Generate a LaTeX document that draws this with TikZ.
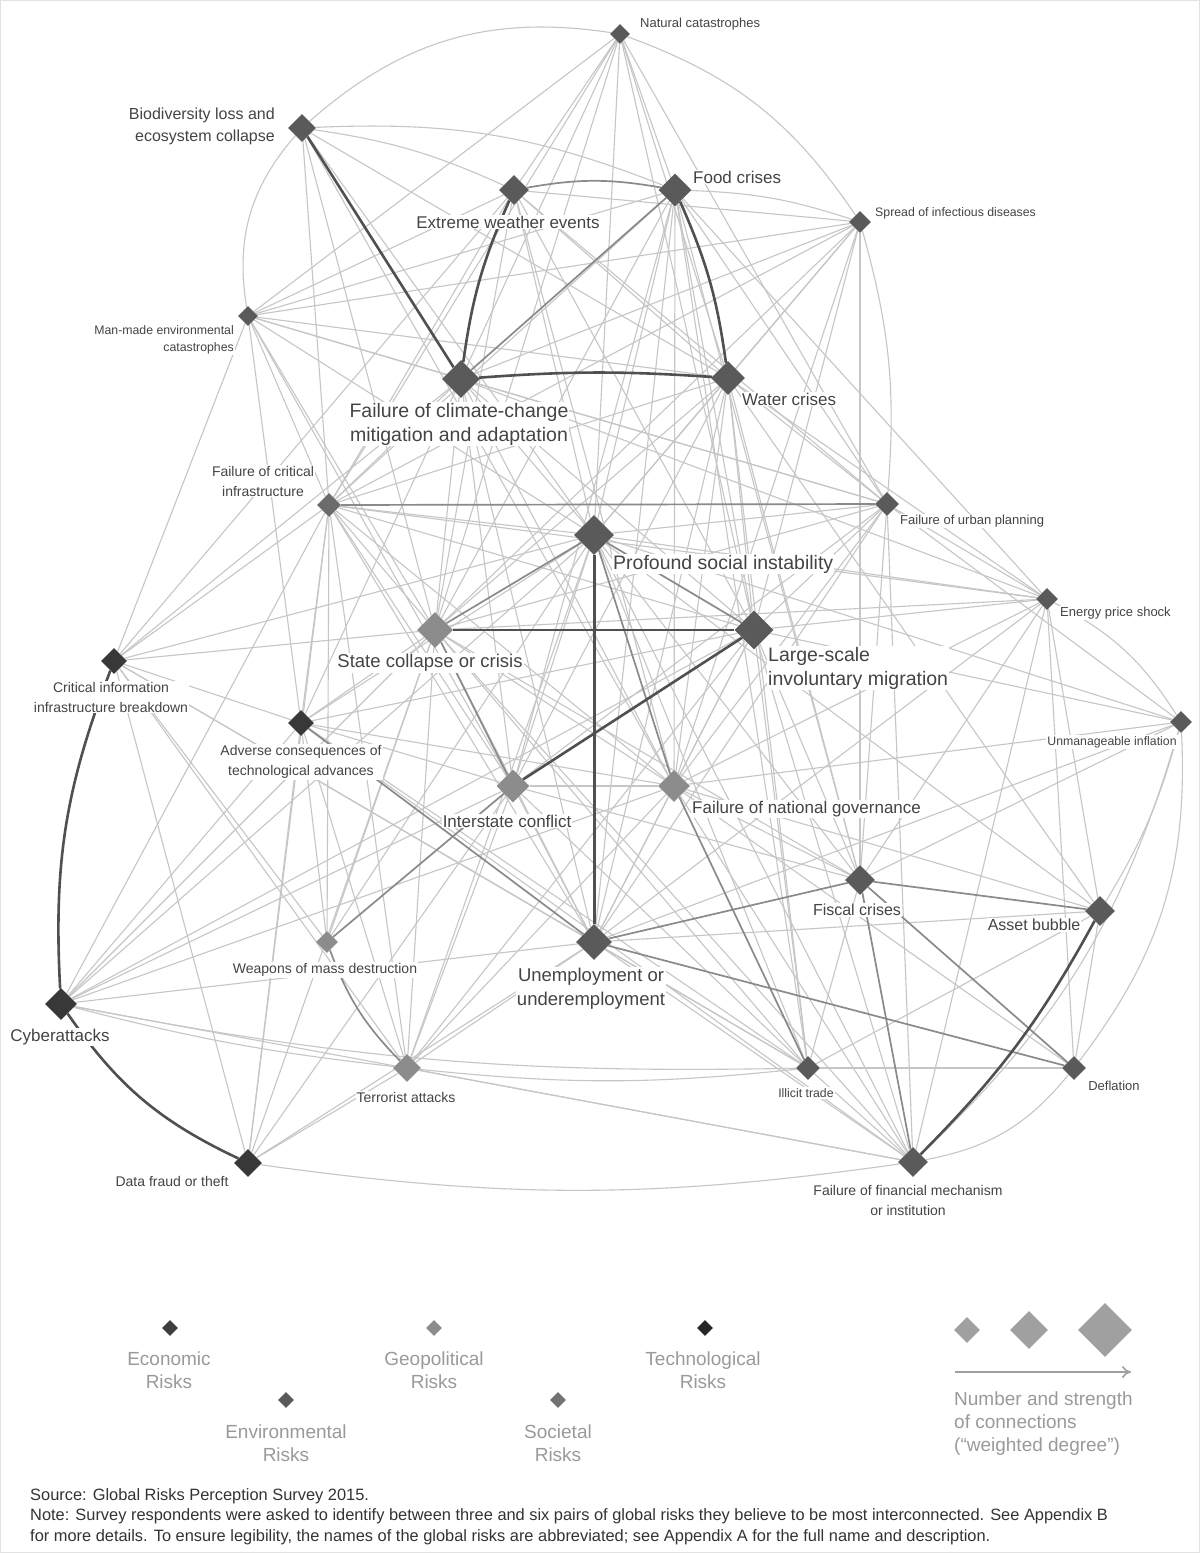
\documentclass[tikz,border=0pt]{standalone}
\usepackage{fontspec}
\setmainfont{Liberation Sans}
\usetikzlibrary{shapes.geometric,arrows.meta}
\definecolor{envc}{HTML}{5A5A5A}
\definecolor{geoc}{HTML}{8C8C8C}
\definecolor{tecc}{HTML}{383838}
\definecolor{ecoc}{HTML}{3E3E3E}
\definecolor{edgel}{HTML}{C6C6C6}
\definecolor{edgem}{HTML}{8A8A8A}
\definecolor{edged}{HTML}{505050}
\definecolor{lblc}{HTML}{444444}
\definecolor{legc}{HTML}{9A9A9A}
\definecolor{legd}{HTML}{A0A0A0}
\definecolor{framec}{HTML}{E2E2E2}
\definecolor{footc}{HTML}{333333}
\pgfdeclarelayer{bg}
\pgfsetlayers{bg,main}
\tikzset{
  dia/.style={diamond, aspect=1, inner sep=0pt, minimum size=#1},
  lt/.style={line width=1.1pt, draw=edgel},
  md/.style={line width=1.7pt, draw=edgem},
  dk/.style={line width=2.6pt, draw=edged},
  lbl/.style={text=lblc, inner sep=1pt, fill=white},
  fXL/.style={font=\fontsize{19.5}{24}\selectfont},
  fL/.style={font=\fontsize{18.5}{24}\selectfont},
  fM/.style={font=\fontsize{17}{21}\selectfont},
  fMs/.style={font=\fontsize{16}{22}\selectfont},
  fS/.style={font=\fontsize{15}{21}\selectfont},
  fXS/.style={font=\fontsize{14}{20}\selectfont},
  fXXS/.style={font=\fontsize{13}{17}\selectfont},
  fT/.style={font=\fontsize{12.3}{17}\selectfont},
  legtxt/.style={text=legc, inner sep=0pt, align=center, font=\fontsize{19}{23}\selectfont},
  foot/.style={text=footc, inner sep=0pt, anchor=west, font=\fontsize{16.4}{21}\selectfont}
}
\begin{document}
\begin{tikzpicture}[x=1pt,y=-1pt]
\useasboundingbox (0,0) rectangle (1200,1553);
% ---------- risk nodes ----------
\node[dia=20, fill=envc] (natcat) at (620,34) {};
\node[dia=28, fill=envc] (biodiv) at (302,128) {};
\node[dia=30, fill=envc] (extreme) at (514,190) {};
\node[dia=33, fill=envc] (food) at (675,190) {};
\node[dia=22, fill=envc] (spread) at (860,222) {};
\node[dia=20, fill=envc] (manmade) at (248,316) {};
\node[dia=38, fill=envc] (climate) at (461,379) {};
\node[dia=34, fill=envc] (water) at (728,378) {};
\node[dia=24, fill=envc!90!white] (critinfra) at (329,505) {};
\node[dia=24, fill=envc] (urban) at (887,504) {};
\node[dia=40, fill=envc] (social) at (594,535) {};
\node[dia=22, fill=envc] (energy) at (1047,599) {};
\node[dia=36, fill=geoc] (state) at (435,630) {};
\node[dia=39, fill=envc] (migration) at (754,630) {};
\node[dia=26, fill=tecc] (cib) at (114,661) {};
\node[dia=26, fill=tecc] (adverse) at (301,723) {};
\node[dia=22, fill=envc] (inflation) at (1181,722) {};
\node[dia=33, fill=geoc] (interstate) at (513,786) {};
\node[dia=32, fill=geoc] (governance) at (674,786) {};
\node[dia=30, fill=envc] (fiscal) at (860,880) {};
\node[dia=30, fill=envc] (bubble) at (1100,911) {};
\node[dia=22, fill=geoc] (wmd) at (327,942) {};
\node[dia=36, fill=envc] (unemp) at (594,942) {};
\node[dia=32, fill=tecc] (cyber) at (61,1004) {};
\node[dia=28, fill=geoc] (terror) at (407,1068) {};
\node[dia=24, fill=envc] (illicit) at (808,1068) {};
\node[dia=24, fill=envc] (deflation) at (1074,1068) {};
\node[dia=28, fill=tecc] (datafraud) at (248,1163) {};
\node[dia=30, fill=envc] (financial) at (913,1162) {};
% ---------- connections ----------
\begin{pgfonlayer}{bg}
\fill[white] (0,0) rectangle (1200,1553);
\draw[framec, line width=1pt] (0.5,0.5) rectangle (1199.5,1552.5);
% light connections
\foreach \a/\b in {
 natcat/extreme, natcat/food, natcat/water, natcat/climate, natcat/manmade, natcat/social, natcat/migration, natcat/urban, natcat/critinfra, natcat/state,
 biodiv/water, biodiv/social, biodiv/governance, biodiv/state, biodiv/critinfra,
 extreme/water, extreme/spread, extreme/manmade, extreme/social, extreme/migration, extreme/critinfra, extreme/urban, extreme/state, extreme/governance, extreme/cib,
 food/social, food/migration, food/state, food/governance, food/interstate, food/manmade, food/urban, food/critinfra, food/unemp, food/fiscal, food/energy, food/illicit,
 spread/water, spread/social, spread/migration, spread/climate, spread/manmade, spread/state, spread/governance, spread/critinfra, spread/fiscal,
 manmade/climate, manmade/water, manmade/critinfra, manmade/adverse, manmade/social, manmade/state, manmade/interstate, manmade/urban, manmade/cib,
 climate/social, climate/migration, climate/state, climate/governance, climate/urban, climate/critinfra, climate/cib, climate/unemp, climate/interstate, climate/energy, climate/adverse,
 water/social, water/migration, water/state, water/governance, water/interstate, water/urban, water/critinfra, water/energy, water/unemp, water/fiscal, water/illicit, water/bubble,
 critinfra/cib, critinfra/adverse, critinfra/cyber, critinfra/datafraud, critinfra/social, critinfra/state, critinfra/interstate, critinfra/migration, critinfra/governance, critinfra/terror, critinfra/energy, critinfra/unemp, critinfra/wmd,
 urban/social, urban/migration, urban/state, urban/governance, urban/energy, urban/inflation, urban/fiscal, urban/interstate, urban/unemp, urban/financial,
 social/interstate, social/fiscal, social/energy, social/inflation, social/adverse, social/cib, social/terror, social/illicit, social/financial, social/bubble, social/cyber, social/wmd,
 energy/migration, energy/fiscal, energy/bubble, energy/deflation, energy/unemp, energy/governance, energy/financial, energy/state,
 state/governance, state/unemp, state/adverse, state/cib, state/terror, state/wmd, state/illicit, state/fiscal, state/financial, state/cyber, state/datafraud,
 migration/governance, migration/unemp, migration/terror, migration/illicit, migration/fiscal, migration/inflation, migration/cyber, migration/adverse, migration/financial,
 cib/adverse, cib/datafraud, cib/terror, cib/wmd, cib/unemp, cib/illicit,
 adverse/cyber, adverse/datafraud, adverse/terror, adverse/wmd, adverse/interstate, adverse/governance, adverse/illicit, adverse/financial,
 inflation/fiscal, inflation/unemp, inflation/governance,
 interstate/governance, interstate/unemp, interstate/terror, interstate/illicit, interstate/cyber, interstate/fiscal, interstate/datafraud,
 governance/unemp, governance/fiscal, governance/terror, governance/financial, governance/bubble, governance/deflation, governance/cyber,
 fiscal/illicit,
 bubble/unemp, bubble/deflation, bubble/illicit,
 unemp/terror, unemp/illicit, unemp/financial, unemp/cyber, unemp/datafraud,
 cyber/financial, terror/datafraud, terror/financial, illicit/financial, illicit/deflation}
 \draw[lt] (\a) -- (\b);
% light curved connections
\draw[lt] (natcat) to[bend right=25] (biodiv);
\draw[lt] (natcat) to[bend left=18] (spread);
\draw[lt] (biodiv) to[bend left=8] (extreme);
\draw[lt] (biodiv) to[bend left=12] (food);
\draw[lt] (biodiv) to[bend right=25] (manmade);
\draw[lt] (food) to[bend left=8] (spread);
\draw[lt] (spread) to[bend left=10] (urban);
\draw[lt] (energy) to[bend left=15] (inflation);
\draw[lt] (inflation) to[bend left=8] (bubble);
\draw[lt] (inflation) to[bend left=20] (deflation);
\draw[lt] (inflation) to[bend left=15] (financial);
\draw[lt] (deflation) to[bend left=20] (financial);
\draw[lt] (cyber) to[bend right=6] (illicit);
\draw[lt] (cyber) to[bend right=4] (terror);
\draw[lt] (terror) to[bend right=6] (illicit);
\draw[lt] (datafraud) to[bend right=8] (financial);
% medium connections
\draw[md] (social) -- (state);
\draw[md] (social) -- (migration);
\draw[md] (social) -- (governance);
\draw[md] (state) -- (interstate);
\draw[md] (climate) -- (food);
\draw[md] (extreme) to[bend left=10] (food);
\draw[md] (fiscal) -- (bubble);
\draw[md] (fiscal) -- (unemp);
\draw[md] (unemp) -- (deflation);
\draw[md] (adverse) -- (unemp);
\draw[md] (critinfra) -- (urban);
\draw[md] (governance) -- (illicit);
\draw[md] (wmd) to[bend right=12] (terror);
\draw[md] (fiscal) -- (financial);
\draw[md] (fiscal) -- (deflation);
\draw[md] (wmd) -- (interstate);
% strong connections
\draw[dk] (biodiv) -- (climate);
\draw[dk] (extreme) to[bend right=8] (climate);
\draw[dk] (food) to[bend left=8] (water);
\draw[dk] (climate) to[bend left=4] (water);
\draw[dk, line width=3pt] (social) -- (unemp);
\draw[dk] (state) -- (migration);
\draw[dk] (migration) -- (interstate);
\draw[dk] (cyber) to[bend right=15] (datafraud);
\draw[dk] (cib) to[bend right=12] (cyber);
\draw[dk] (bubble) to[bend left=8] (financial);
\end{pgfonlayer}
% ---------- labels ----------
\node[lbl, fXXS, anchor=west] (natcat-l) at (639,24) {Natural catastrophes};
\node[lbl, fMs, anchor=east, align=right] (biodiv-l) at (276,126) {Biodiversity loss and\\ecosystem collapse};
\node[lbl, fM] (extreme-l) at (508,222) {Extreme weather events};
\node[lbl, fM, anchor=west] (food-l) at (692,177) {Food crises};
\node[lbl, fT, anchor=west] (spread-l) at (874,213) {Spread of infectious diseases};
\node[lbl, fT, anchor=east, align=right] (manmade-l) at (235,340) {Man-made environmental\\catastrophes};
\node[lbl, fXL, align=center] (climate-l) at (459,424) {Failure of climate-change\\mitigation and adaptation};
\node[lbl, fM, anchor=west] (water-l) at (741,399) {Water crises};
\node[lbl, fXS, align=center] (critinfra-l) at (263,481) {Failure of critical\\infrastructure};
\node[lbl, fXXS, anchor=west] (urban-l) at (899,521) {Failure of urban planning};
\node[lbl, fXL, anchor=west] (social-l) at (612,564) {Profound social instability};
\node[lbl, fXXS, anchor=west] (energy-l) at (1059,613) {Energy price shock};
\node[lbl, fL] (state-l) at (430,663) {State collapse or crisis};
\node[lbl, fXL, anchor=west, align=left] (migration-l) at (767,668) {Large-scale\\involuntary migration};
\node[lbl, fXS, align=center] (cib-l) at (111,697) {Critical information\\infrastructure breakdown};
\node[lbl, fXS, align=center] (adverse-l) at (301,762) {Adverse consequences of\\technological advances};
\node[lbl, fT] (inflation-l) at (1112,742) {Unmanageable inflation};
\node[lbl, fM] (interstate-l) at (507,821) {Interstate conflict};
\node[lbl, fM, anchor=west] (governance-l) at (691,809) {Failure of national governance};
\node[lbl, fMs] (fiscal-l) at (857,910) {Fiscal crises};
\node[lbl, fMs] (bubble-l) at (1034,925) {Asset bubble};
\node[lbl, fXS] (wmd-l) at (325,970) {Weapons of mass destruction};
\node[lbl, fL, align=center] (unemp-l) at (591,989) {Unemployment or\\underemployment};
\node[lbl, fM] (cyber-l) at (60,1037) {Cyberattacks};
\node[lbl, fXS] (terror-l) at (406,1097) {Terrorist attacks};
\node[lbl, fT] (illicit-l) at (806,1093) {Illicit trade};
\node[lbl, fXXS] (deflation-l) at (1114,1086) {Deflation};
\node[lbl, fXS] (datafraud-l) at (172,1181) {Data fraud or theft};
\node[lbl, fXS, align=center] (financial-l) at (908,1200) {Failure of financial mechanism\\or institution};
% ---------- legend ----------
\node[dia=16, fill=ecoc] (leg-eco) at (170,1328) {};
\node[legtxt] (leg-eco-t) at (169,1370) {Economic\\Risks};
\node[dia=16, fill=envc] (leg-env) at (286,1400) {};
\node[legtxt] (leg-env-t) at (286,1443) {Environmental\\Risks};
\node[dia=16, fill=geoc] (leg-geo) at (434,1328) {};
\node[legtxt] (leg-geo-t) at (434,1370) {Geopolitical\\Risks};
\node[dia=16, fill=envc!85!white] (leg-soc) at (558,1400) {};
\node[legtxt] (leg-soc-t) at (558,1443) {Societal\\Risks};
\node[dia=16, fill=tecc!70!black] (leg-tec) at (705,1328) {};
\node[legtxt] (leg-tec-t) at (703,1370) {Technological\\Risks};
\node[dia=26, fill=legd] (sz1) at (967,1330) {};
\node[dia=38, fill=legd] (sz2) at (1029,1330) {};
\node[dia=54, fill=legd] (sz3) at (1105,1330) {};
\coordinate (arr-s) at (955,1372);
\coordinate (arr-e) at (1131,1372);
\draw[legd, line width=1.6pt, -{To[length=9pt,width=12pt]}] (arr-s) -- (arr-e);
\node[legtxt, anchor=north west, align=left] (leg-size-t) at (954,1392) {Number and strength\\of connections\\(“weighted degree”)};
% ---------- footer ----------
\node[foot] (src) at (30,1496) {Source: Global Risks Perception Survey 2015.};
\node[foot] (note1) at (30,1516) {Note: Survey respondents were asked to identify between three and six pairs of global risks they believe to be most interconnected. See Appendix B};
\node[foot] (note2) at (30,1537) {for more details. To ensure legibility, the names of the global risks are abbreviated; see Appendix A for the full name and description.};
\end{tikzpicture}
\end{document}
